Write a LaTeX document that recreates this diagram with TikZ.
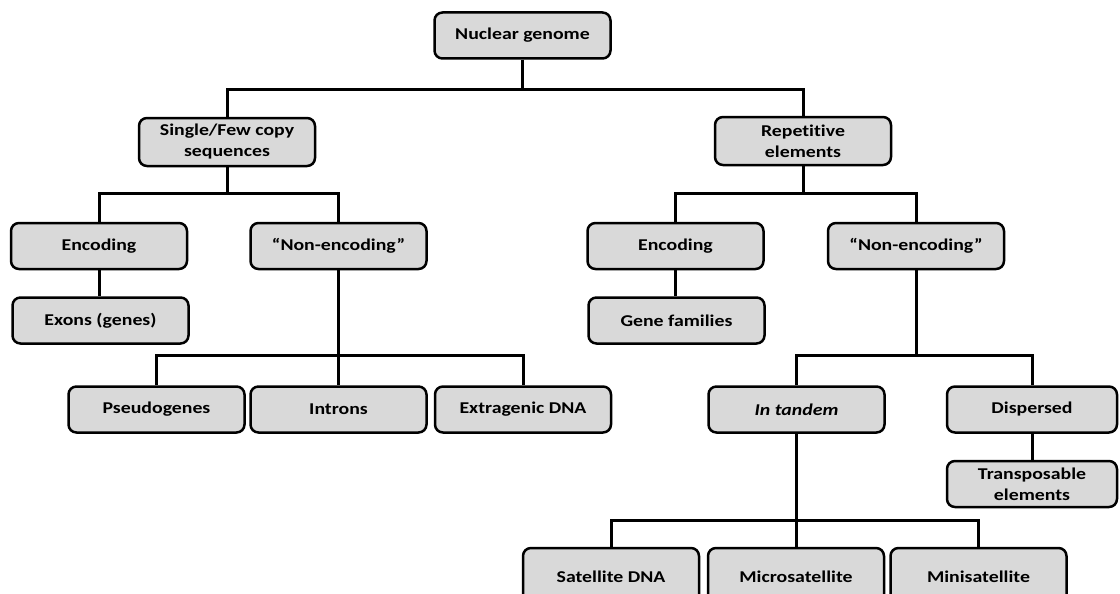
\documentclass[tikz,border=0pt]{standalone}
\usepackage{fontspec}
\setmainfont{Carlito}[FakeStretch=1.2,Ligatures={NoCommon}]
\definecolor{boxgray}{HTML}{D9D9D9}
\begin{document}
\begin{tikzpicture}[x=1pt,y=-1pt,
  box/.style={draw=black, line width=2.5pt, rounded corners=8pt, fill=boxgray,
    minimum width=176pt, minimum height=46pt, inner sep=0pt, align=center,
    font=\bfseries\fontsize{16.5}{21}\selectfont},
  conn/.style={line width=3pt, draw=black}]
\useasboundingbox (0,0) rectangle (1120,594);
\clip (0,0) rectangle (1120,594);
\coordinate (ya) at (0,90);
\coordinate (yb) at (0,193);
\coordinate (yc) at (0,355);
\coordinate (yd) at (0,520);
% nodes
\node[box] (root) at (522.5,35.5) {Nuclear genome};
\node[box, minimum height=48pt] (single) at (227,142) {Single/Few copy\\sequences};
\node[box, minimum height=48pt] (rep) at (803,141) {Repetitive\\elements};
\node[box] (encL) at (99,246) {Encoding};
\node[box] (nonL) at (338.5,246) {“Non-encoding”};
\node[box] (exons) at (100.5,320.5) {Exons (genes)};
\node[box] (encR) at (675.5,246) {Encoding};
\node[box] (nonR) at (916,246) {“Non-encoding”};
\node[box] (genefam) at (676.5,320.5) {Gene families};
\node[box] (pseudo) at (156.5,409.5) {Pseudogenes};
\node[box] (introns) at (338.5,409.5) {Introns};
\node[box] (extra) at (523,409.5) {Extragenic DNA};
\node[box] (tandem) at (796.5,409.5) {\itshape In tandem};
\node[box, minimum width=170pt] (disp) at (1032,409.5) {Dispersed};
\node[box, minimum width=170pt] (transp) at (1032,484) {Transposable\\elements};
\node[box, minimum height=58pt] (sat) at (611,577) {Satellite DNA};
\node[box, minimum height=58pt] (micro) at (796,577) {Microsatellite};
\node[box, minimum height=58pt] (mini) at (978.5,577) {Minisatellite};
% connectors
\draw[conn] (root.south) -- (root.south |- ya);
\draw[conn] (single.north) |- (rep.north |- ya) -- (rep.north);
\draw[conn] (single.south) -- (single.south |- yb);
\draw[conn] (encL.north) |- (nonL.north |- yb) -- (nonL.north);
\draw[conn] (rep.south) -- (rep.south |- yb);
\draw[conn] (encR.north) |- (nonR.north |- yb) -- (nonR.north);
\draw[conn] (encL.south) -- (encL.south |- exons.north);
\draw[conn] (encR.south) -- (encR.south |- genefam.north);
\draw[conn] (nonL.south) -- (introns.north);
\draw[conn] (pseudo.north) |- (extra.north |- yc) -- (extra.north);
\draw[conn] (nonR.south) -- (nonR.south |- yc);
\draw[conn] (tandem.north) |- (disp.north |- yc) -- (disp.north);
\draw[conn] (disp.south) -- (transp.north);
\draw[conn] (tandem.south) -- (tandem.south |- micro.north);
\draw[conn] (sat.north) |- (mini.north |- yd) -- (mini.north);
\end{tikzpicture}
\end{document}
